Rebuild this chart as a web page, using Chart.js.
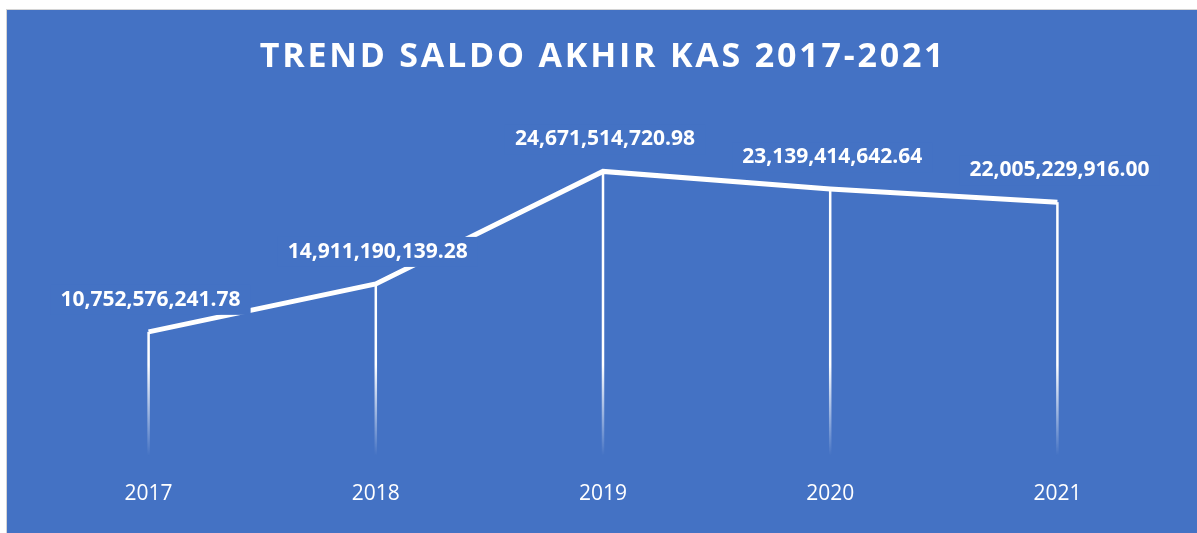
<!DOCTYPE html>
<html>
<head>
<meta charset="utf-8">
<script src="https://cdn.jsdelivr.net/npm/chart.js@4/dist/chart.umd.min.js"></script>
<style>
  html, body { margin: 0; padding: 0; background: #fff; overflow: hidden; }
  #frame {
    position: absolute; left: 6px; top: 9px;
    width: 1190px; height: 523px;
    border-top: 1px solid #d4d4d4; border-left: 1px solid #d4d4d4;
    background: #4472C4;
  }
  canvas { display: block; }
</style>
</head>
<body>
<div id="frame"><canvas id="kasChart" width="1190" height="523"></canvas></div>
<script>
// ===== data =====
const years = ["2017", "2018", "2019", "2020", "2021"];
const saldoAkhir = [10752576241.78, 14911190139.28, 24671514720.98, 23139414642.64, 22005229916.00];
const chartTitle = "TREND SALDO AKHIR KAS 2017-2021";

const BLUE = "#4472C4";

const fmt = v => v.toLocaleString("en-US", { minimumFractionDigits: 2, maximumFractionDigits: 2 });

// title with wide letter spacing
const titlePlugin = {
  id: "titleSpaced",
  afterDraw(chart) {
    const c = chart.ctx;
    c.save();
    c.font = "bold 34px 'Open Sans'";
    c.fillStyle = "#fff";
    c.textAlign = "center";
    c.textBaseline = "middle";
    c.letterSpacing = "2.8px";
    c.fillText(chartTitle, chart.width / 2 + 1, 47);
    c.restore();
  }
};

// fading drop lines from each point to the bottom
const dropLines = {
  id: "dropLines",
  beforeDatasetsDraw(chart) {
    const c = chart.ctx;
    const area = chart.chartArea;
    const pts = chart.getDatasetMeta(0).data;
    const grad = c.createLinearGradient(0, 355, 0, area.bottom);
    grad.addColorStop(0, "rgba(255,255,255,1)");
    grad.addColorStop(1, "rgba(255,255,255,0)");
    c.save();
    c.strokeStyle = grad;
    c.lineWidth = 2.5;
    pts.forEach(p => {
      c.beginPath();
      c.moveTo(p.x, p.y);
      c.lineTo(p.x, area.bottom);
      c.stroke();
    });
    c.restore();
  }
};

// value labels on a blue box that hides the line beneath
const valueLabels = {
  id: "valueLabels",
  afterDatasetsDraw(chart) {
    const c = chart.ctx;
    const pts = chart.getDatasetMeta(0).data;
    c.save();
    c.font = "bold 21px 'Open Sans'";
    c.textAlign = "center";
    c.textBaseline = "middle";
    pts.forEach((p, i) => {
      const txt = fmt(saldoAkhir[i]);
      const w = c.measureText(txt).width;
      const x = p.x + 2, y = p.y - 32;
      c.fillStyle = BLUE;
      c.fillRect(x - w / 2 - 10, y - 15, w + 20, 30);
      c.fillStyle = "#fff";
      c.fillText(txt, x, y);
    });
    c.restore();
  }
};

new Chart(document.getElementById("kasChart"), {
  type: "line",
  data: {
    labels: years,
    datasets: [{
      data: saldoAkhir,
      borderColor: "#fff",
      borderWidth: 5,
      borderCapStyle: "butt",
      pointRadius: 0,
      tension: 0,
      fill: false
    }]
  },
  options: {
    responsive: false,
    animation: false,
    layout: { padding: { top: 100, left: 28, right: 26, bottom: 0 } },
    plugins: {
      legend: { display: false },
      title: { display: false },
      tooltip: { enabled: false }
    },
    scales: {
      x: {
        offset: true,
        grid: { display: false, drawTicks: false },
        border: { display: false },
        ticks: { color: "#fff", font: { family: "'Open Sans'", size: 21 }, padding: 26 }
      },
      y: {
        display: false,
        min: 0,
        max: 30000000000
      }
    }
  },
  plugins: [titlePlugin, dropLines, valueLabels]
});
</script>
</body>
</html>
